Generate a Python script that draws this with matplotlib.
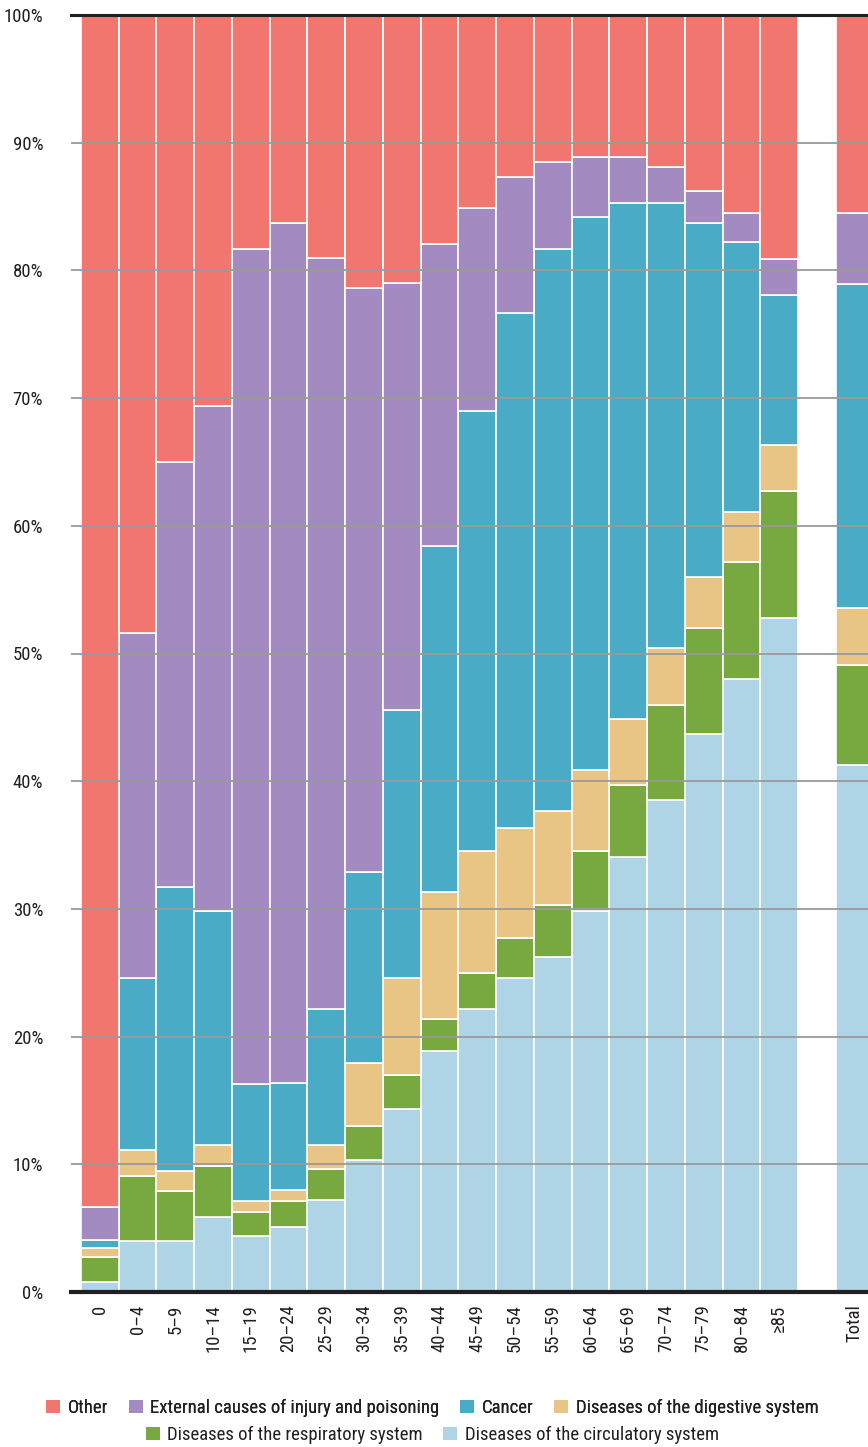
import matplotlib
matplotlib.use("Agg")
import matplotlib.pyplot as plt
from matplotlib.patches import Patch
import numpy as np

plt.rcParams['font.family'] = ['Roboto Condensed', 'DejaVu Sans']

categories = ['0', '0–4', '5–9', '10–14', '15–19', '20–24', '25–29', '30–34', '35–39',
              '40–44', '45–49', '50–54', '55–59', '60–64', '65–69', '70–74', '75–79',
              '80–84', '≥85', 'Total']
positions = list(range(19)) + [20]

circulatory = [0.8, 4.0, 4.0, 5.9, 4.4, 5.1, 7.2, 10.3, 14.3, 18.9, 22.2, 24.6, 26.2, 29.8, 34.1, 38.5, 43.7, 48.0, 52.8, 41.3]
respiratory = [1.95, 5.1, 3.9, 4.0, 1.9, 2.0, 2.4, 2.7, 2.7, 2.5, 2.8, 3.1, 4.1, 4.7, 5.6, 7.5, 8.3, 9.2, 9.9, 7.8]
digestive = [0.7, 2.0, 1.6, 1.6, 0.8, 0.9, 1.9, 4.9, 7.6, 9.9, 9.5, 8.6, 7.4, 6.4, 5.2, 4.4, 4.0, 3.9, 3.6, 4.5]
cancer = [0.6, 13.5, 22.2, 18.3, 9.2, 8.4, 10.7, 15.0, 21.0, 27.1, 34.5, 40.4, 44.0, 43.3, 40.4, 34.9, 27.7, 21.1, 11.8, 25.3]
external = [2.6, 27.0, 33.3, 39.6, 65.4, 67.3, 58.8, 45.7, 33.4, 23.7, 15.9, 10.6, 6.8, 4.7, 3.6, 2.8, 2.5, 2.3, 2.8, 5.6]
other = [93.35, 48.4, 35.0, 30.6, 18.3, 16.3, 19.0, 21.4, 21.0, 17.9, 15.1, 12.7, 11.5, 11.1, 11.1, 11.9, 13.8, 15.5, 19.1, 15.5]

series = [
    ('Diseases of the circulatory system', circulatory, '#AED4E6'),
    ('Diseases of the respiratory system', respiratory, '#78A940'),
    ('Diseases of the digestive system', digestive, '#E8C584'),
    ('Cancer', cancer, '#4AABC6'),
    ('External causes of injury and poisoning', external, '#A38BC2'),
    ('Other', other, '#F27670'),
]

W, H = 868, 1447
fig = plt.figure(figsize=(W / 100, H / 100), dpi=100)
ax_left, ax_right = 71, 868
ax_top, ax_bot = 15, 1292
ax = fig.add_axes([ax_left / W, 1 - ax_bot / H, (ax_right - ax_left) / W, (ax_bot - ax_top) / H])

slot = (798 - 81) / 19.0
x0 = -0.5 - (81 - ax_left) / slot
x1 = -0.5 + (ax_right - 81) / slot
ax.set_xlim(x0, x1)
ax.set_ylim(0, 100)

bottom = np.zeros(len(categories))
for name, vals, col in series:
    v = np.array(vals)
    ax.bar(positions, v, width=1.0, bottom=bottom, color=col, edgecolor='white',
           linewidth=1.2, zorder=2)
    bottom += v

for yv in range(10, 100, 10):
    ax.axhline(yv, color='#9a9a9a', linewidth=1.3, zorder=3)
ax.axhline(0, color='#231f20', linewidth=3, zorder=4, clip_on=False)
ax.axhline(100, color='#231f20', linewidth=2.2, zorder=4, clip_on=False)

for s in ax.spines.values():
    s.set_visible(False)

fs = 13.5
ax.set_yticks(range(0, 101, 10))
ax.set_yticklabels([f'{v}%' for v in range(0, 101, 10)], fontsize=fs, color='#231f20')
ax.set_xticks(positions)
ax.set_xticklabels(categories, rotation=90, fontsize=fs, color='#231f20', va='top')
ax.tick_params(axis='y', length=0, pad=20)
ax.tick_params(axis='x', length=0, pad=9)

handles = {name: Patch(facecolor=col, edgecolor='none') for name, _, col in series}
row1 = ['Other', 'External causes of injury and poisoning', 'Cancer', 'Diseases of the digestive system']
row2 = ['Diseases of the respiratory system', 'Diseases of the circulatory system']
leg1 = fig.legend([handles[n] for n in row1], row1, loc='center', bbox_to_anchor=(0.498, 1 - 1408 / H),
                  ncol=4, frameon=False, fontsize=fs, handlelength=0.75, handleheight=0.75,
                  handletextpad=0.4, columnspacing=1.1, borderpad=0)
fig.add_artist(leg1)
leg2 = fig.legend([handles[n] for n in row2], row2, loc='center', bbox_to_anchor=(0.498, 1 - 1435 / H),
                  ncol=2, frameon=False, fontsize=fs, handlelength=0.75, handleheight=0.75,
                  handletextpad=0.4, columnspacing=1.1, borderpad=0)
for lg in (leg1, leg2):
    for t in lg.get_texts():
        t.set_color('#231f20')

fig.savefig('out.png', dpi=100)
